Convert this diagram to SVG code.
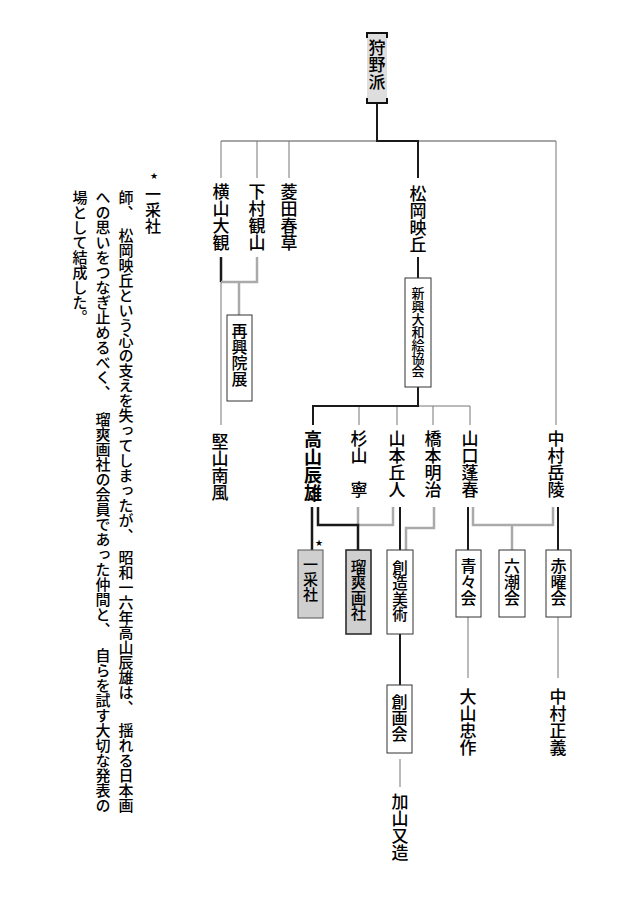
<svg xmlns="http://www.w3.org/2000/svg" width="637" height="900" viewBox="0 0 637 900">
<style>
text{font-family:"Noto Sans CJK JP","Noto Sans CJK SC",sans-serif;fill:#000;writing-mode:vertical-rl;font-weight:500;}
.n{font-size:17px;}
.b{font-size:18px;font-weight:bold;}
.body{font-size:15px;}
.box{fill:#fff;stroke:#333;stroke-width:1;}
.gbox{fill:#cfcfcf;stroke:#555;stroke-width:1;}
.dk{fill:none;stroke:#1a1a1a;stroke-width:2;}
.dk3{fill:none;stroke:#1a1a1a;stroke-width:2.5;}
.th{fill:none;stroke:#777;stroke-width:1;}
.gm{fill:none;stroke:#888;stroke-width:1.5;}
.lg{fill:none;stroke:#aaa;stroke-width:2.5;}
.star{writing-mode:horizontal-tb;font-family:"DejaVu Sans",sans-serif;}
</style>
<rect width="637" height="900" fill="#fff"/>
<g id="connectors">
<path class="gm" d="M221,141H556"/>
<path class="dk" d="M377,103V141H418V178"/>
<path class="th" d="M221,141V178M257,141V178M289,141V178M556,141V425"/>
<path class="dk3" d="M221,257V282"/>
<path class="lg" d="M257,257V282H221M239,282V315"/>
<path class="th" d="M221,282V425"/>
<path class="dk" d="M418,257V278"/>
<path class="th" d="M418,406H470M359,406V425M397,406V425M433,406V425M470,406V425"/>
<path class="dk" d="M418,387V406H313V425"/>
<path class="lg" d="M358,507V525M393,507V525H358M434,507V528H406V550M473,507V525H553V507M512,525V550"/>
<path class="dk3" d="M312,507V550M318,507V525H358V550"/>
<path class="dk" d="M400,507V550M400,634V685M468,507V550M558,507V550"/>
<path class="th" d="M400,759V787M468,617V678M558,617V678"/>
</g>
<g id="kano">
<rect x="367" y="33" width="20" height="70" fill="#dedede"/>
<path d="M367,38V33H387V38M367,98V103H387V98" fill="none" stroke="#111" stroke-width="2"/>
<text class="n" x="377" y="39">狩野派</text>
</g>
<g id="yokoyama"><text class="n" x="221" y="183">横山大観</text></g>
<g id="shimomura"><text class="n" x="257" y="183">下村観山</text></g>
<g id="hishida"><text class="n" x="289" y="183">菱田春草</text></g>
<g id="matsuoka"><text class="n" x="418" y="185">松岡映丘</text></g>
<g id="nakamura-gakuryo"><text class="n" x="556" y="430">中村岳陵</text></g>
<g id="saiko-inten"><rect class="box" x="227" y="315" width="25" height="86"/><text x="239.5" y="323" style="font-size:16px">再興院展</text></g>
<g id="katayama"><text class="n" x="220" y="433">堅山南風</text></g>
<g id="shinko-yamato"><rect class="box" x="405" y="278" width="26" height="109"/><text x="418" y="287" style="font-size:13px">新興大和絵協会</text></g>
<g id="takayama"><text class="b" x="313" y="430">高山辰雄</text></g>
<g id="sugiyama"><text class="n" x="359" y="430">杉山　寧</text></g>
<g id="yamamoto"><text class="n" x="397" y="430">山本丘人</text></g>
<g id="hashimoto"><text class="n" x="433" y="430">橋本明治</text></g>
<g id="yamaguchi"><text class="n" x="470" y="430">山口蓬春</text></g>
<g id="issaisha"><rect class="gbox" x="298" y="550" width="25" height="68"/><text x="310.5" y="557" style="font-size:15px">一采社</text><text class="star" x="319" y="546" text-anchor="middle" style="font-size:9px">★</text></g>
<g id="ryusou"><rect class="gbox" x="346" y="550" width="25" height="84" style="stroke:#222;stroke-width:1.5"/><text x="358.5" y="559" style="font-size:15.5px">瑠爽画社</text></g>
<g id="sozo"><rect class="box" x="387" y="550" width="26" height="84"/><text x="400" y="560" style="font-size:15.5px">創造美術</text></g>
<g id="seisei"><rect class="box" x="456" y="550" width="25" height="67"/><text x="468.5" y="558" style="font-size:16px">青々会</text></g>
<g id="rokucho"><rect class="box" x="499" y="550" width="26" height="67"/><text x="512" y="558" style="font-size:16px">六潮会</text></g>
<g id="sekiyo"><rect class="box" x="546" y="550" width="25" height="67"/><text x="558.5" y="558" style="font-size:16px">赤曜会</text></g>
<g id="sogakai"><rect class="box" x="387" y="685" width="25" height="68"/><text x="399.5" y="694" style="font-size:16px">創画会</text></g>
<g id="kayama"><text class="n" x="400" y="793">加山又造</text></g>
<g id="oyama"><text class="n" x="468" y="688">大山忠作</text></g>
<g id="nakamura-masayoshi"><text class="n" x="558" y="688">中村正義</text></g>
<g id="note">
<text class="star" x="154" y="179" text-anchor="middle" style="font-size:9px">★</text>
<text x="153" y="186" style="font-size:16px">一采社</text>
<text class="body" x="126" y="190">師、</text>
<text class="body" x="126" y="228">松岡映丘という心の支えを失ってしまったが、</text>
<text class="body" x="126" y="550">昭和一六年高山辰雄は、</text>
<text class="body" x="126" y="723">揺れる日本画</text>
<text class="body" x="103" y="190">への思いをつなぎ止めるべく、</text>
<text class="body" x="103" y="412">瑠爽画社の会員であった仲間と、</text>
<text class="body" x="103" y="648">自らを試す大切な発表の</text>
<text class="body" x="80" y="190">場として結成した。</text>
</g>
</svg>
